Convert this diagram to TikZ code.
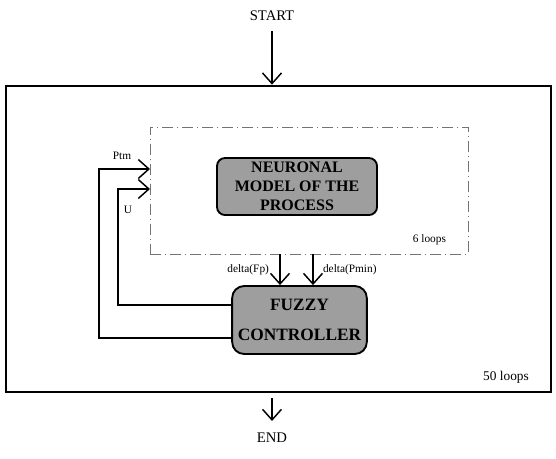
\documentclass[tikz,border=0pt]{standalone}
\usepackage{fontspec}
\setmainfont{Liberation Serif}
\usetikzlibrary{arrows.meta}

\begin{document}
\begin{tikzpicture}[x=0.75pt, y=-0.75pt, line width=1.1pt, >={Straight Barb[length=2.8mm,width=5mm]},
	block/.style={draw, line width=1.4pt, fill=black!38, align=center, inner sep=0pt},
	lbl/.style={font=\fontsize{8.5}{10}\selectfont, inner sep=1pt},
	loopbox/.style={inner sep=0pt}]
	\useasboundingbox (0,0) rectangle (556,458);
	% frames
	\node[loopbox, draw, line width=2pt, minimum width=408.75pt, minimum height=229.5pt] (loop50) at (278.5,239) {};
	\node[loopbox, draw=black!55, line width=0.6pt, dash pattern=on 8pt off 3pt on 1pt off 3pt, minimum width=238.5pt, minimum height=95.25pt] (loop6) at (309,190.5) {};
	% blocks
	\node[block, rounded corners=6pt, minimum width=120pt, minimum height=42.75pt, font=\bfseries\fontsize{12}{14.2}\selectfont] (nmp) at (297,186.5) {NEURONAL\\MODEL OF THE\\PROCESS};
	\node[block, rounded corners=9pt, minimum width=101pt, minimum height=51pt, font=\bfseries\fontsize{13}{22}\selectfont] (fc) at (299.5,320) {FUZZY\\CONTROLLER};
	% texts
	\node[font=\fontsize{11}{13}\selectfont] (start) at (272,16) {START};
	\node[font=\fontsize{11}{13}\selectfont] (end) at (272,438) {END};
	\node[lbl] (ptm) at (122,156) {Ptm};
	\node[lbl] (u) at (128,210) {U};
	\node[lbl, anchor=east] (dfp) at (271,270) {delta(Fp)};
	\node[lbl, anchor=west] (dpmin) at (321,270) {delta(Pmin)};
	\node[lbl, anchor=east] (six) at (448,240) {6 loops};
	\node[font=\fontsize{10}{12}\selectfont] (fifty) at (506,377) {50 loops};
	% connector ends
	\coordinate (s0) at (272,31);
	\coordinate (e0) at (272,398);
	\coordinate (e1) at (272,421);
	\coordinate (ptmIn) at (150,169);
	\coordinate (uIn) at (150,189);
	\coordinate (fcPtm) at (232,338);
	\coordinate (fcU) at (232,305);
	\coordinate (outFp) at (280,254);
	\coordinate (outPmin) at (313,254);
	% connectors
	\draw[->] (s0) -- (s0 |- loop50.north);
	\draw[->] (e0) -- (e1);
	\draw[->] (fcPtm) -- (99,338) -- (99,169) -- (ptmIn);
	\draw[->] (fcU) -- (118,305) -- (118,189) -- (uIn);
	\draw[->] (outFp) -- (outFp |- fc.north);
	\draw[->] (outPmin) -- (outPmin |- fc.north);
\end{tikzpicture}
\end{document}
